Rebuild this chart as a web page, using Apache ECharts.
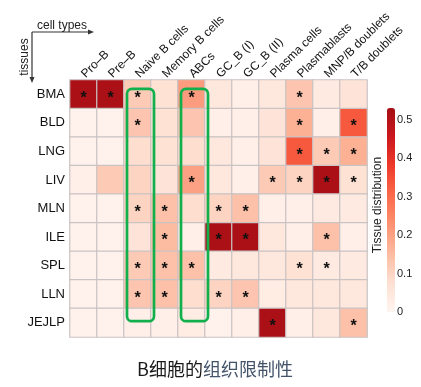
<!DOCTYPE html>
<html>
<head>
<meta charset="utf-8">
<script src="https://cdn.jsdelivr.net/npm/echarts@6/dist/echarts.min.js"></script>
<style>
html,body{margin:0;padding:0;background:#fff;}
#c{width:421px;height:387px;}
</style>
</head>
<body>
<div id="c"></div>
<script>
const tissues = ['BMA','BLD','LNG','LIV','MLN','ILE','SPL','LLN','JEJLP'];
const cellTypes = ['Pro–B','Pre–B','Naive B cells','Memory B cells','ABCs','GC_B (I)','GC_B (II)','Plasma cells','Plasmablasts','MNP/B doublets','T/B doublets'];

const rowBMA   = [0.52, 0.52, 0.12, 0.07, 0.21, 0.05, 0.02, 0.05, 0.13, 0.04, 0.06];
const rowBLD   = [0.01, 0.01, 0.13, 0.07, 0.13, 0.02, 0.02, 0.06, 0.17, 0.02, 0.33];
const rowLNG   = [0.01, 0.01, 0.08, 0.07, 0.08, 0.05, 0.02, 0.06, 0.33, 0.12, 0.17];
const rowLIV   = [0.02, 0.12, 0.10, 0.06, 0.20, 0.05, 0.02, 0.12, 0.10, 0.52, 0.07];
const rowMLN   = [0.01, 0.01, 0.10, 0.14, 0.08, 0.10, 0.14, 0.02, 0.02, 0.04, 0.04];
const rowILE   = [0.01, 0.01, 0.06, 0.15, 0.02, 0.52, 0.52, 0.05, 0.02, 0.14, 0.02];
const rowSPL   = [0.01, 0.01, 0.12, 0.14, 0.14, 0.04, 0.05, 0.05, 0.07, 0.04, 0.04];
const rowLLN   = [0.01, 0.01, 0.13, 0.14, 0.08, 0.10, 0.13, 0.03, 0.05, 0.05, 0.05];
const rowJEJLP = [0.01, 0.01, 0.02, 0.02, 0.03, 0.01, 0.02, 0.52, 0.02, 0.05, 0.14];
const values = [rowBMA,rowBLD,rowLNG,rowLIV,rowMLN,rowILE,rowSPL,rowLLN,rowJEJLP];

const starBMA   = [1,1,1,0,1,0,0,0,1,0,0];
const starBLD   = [0,0,1,0,0,0,0,0,1,0,1];
const starLNG   = [0,0,0,0,0,0,0,0,1,1,1];
const starLIV   = [0,0,0,0,1,0,0,1,1,1,1];
const starMLN   = [0,0,1,1,0,1,1,0,0,0,0];
const starILE   = [0,0,0,1,0,1,1,0,0,1,0];
const starSPL   = [0,0,1,1,1,0,0,0,1,1,0];
const starLLN   = [0,0,1,1,0,1,1,0,0,0,0];
const starJEJLP = [0,0,0,0,0,0,0,1,0,0,1];
const stars = [starBMA,starBLD,starLNG,starLIV,starMLN,starILE,starSPL,starLLN,starJEJLP];

const colorTicks = [0, 0.1, 0.2, 0.3, 0.4, 0.5];
const colorMax = 0.53;
const highlighted = ['Naive B cells','ABCs'];

const FONT = '"Liberation Sans", Arial, sans-serif';
const ramp = ['#FFF5F0','#FEE0D2','#FCBBA1','#FC9272','#FB6A4A','#EF3B2C','#CB181D','#A50F15'];

const data = [];
values.forEach((row, r) => {
  row.forEach((v, c) => {
    const item = { value: [c, r, v] };
    if (stars[r][c]) item.label = { show: true };
    data.push(item);
  });
});

const chart = echarts.init(document.getElementById('c'));
const GL = 70, GT = 80, GW = 297, GH = 257;

chart.setOption({
  animation: false,
  backgroundColor: '#fff',
  grid: [
    { left: GL, top: GT, width: GW, height: GH },
    { left: 387, top: 108, width: 8, height: 204 }
  ],
  xAxis: [
    {
      type: 'category', data: cellTypes, position: 'top', gridIndex: 0,
      axisLine: { show: false }, axisTick: { show: false }, splitLine: { show: false },
      axisLabel: { rotate: -45, interval: 0, margin: 4, fontSize: 12, color: '#111', fontFamily: FONT }
    },
    { type: 'category', data: ['c'], gridIndex: 1, show: false }
  ],
  yAxis: [
    {
      type: 'category', data: tissues, inverse: true, gridIndex: 0,
      axisLine: { show: false }, axisTick: { show: false }, splitLine: { show: false },
      axisLabel: { margin: 5, fontSize: 13, color: '#111', fontFamily: FONT }
    },
    {
      type: 'value', gridIndex: 1, min: 0, max: colorMax, interval: 0.1, position: 'right',
      axisLine: { show: false }, axisTick: { show: false }, splitLine: { show: false },
      axisLabel: {
        margin: 2, fontSize: 11, color: '#222', fontFamily: FONT, showMaxLabel: false,
        formatter: v => (colorTicks.some(t => Math.abs(t - v) < 1e-6) ? String(+v.toFixed(1)) : '')
      }
    }
  ],
  visualMap: {
    type: 'continuous', min: 0, max: colorMax, seriesIndex: 0,
    orient: 'vertical', left: 387, top: 108, itemWidth: 8, itemHeight: 204,
    padding: 0, calculable: false, text: null, showLabel: false,
    inRange: { color: ramp }
  },
  series: [{
    type: 'heatmap', xAxisIndex: 0, yAxisIndex: 0, data: data,
    itemStyle: { borderColor: '#cac3c3', borderWidth: 1.2 },
    label: {
      show: false, formatter: '*', fontSize: 16, fontWeight: 'bold', color: '#111',
      fontFamily: FONT, offset: [0, 4]
    },
    emphasis: { disabled: true }
  }]
});

// annotations
const graphics = [];
const cellW = GW / cellTypes.length;
const yTop = chart.convertToPixel({ yAxisIndex: 0 }, tissues[0]) - 5.5;
const yBot = chart.convertToPixel({ yAxisIndex: 0 }, tissues[tissues.length - 1]) - 1.5;
highlighted.forEach(name => {
  const cx = chart.convertToPixel({ xAxisIndex: 0 }, name);
  graphics.push({
    type: 'rect', z: 100,
    shape: { x: cx - cellW / 2 + 3, y: yTop, width: cellW, height: yBot - yTop, r: 5 },
    style: { fill: 'none', stroke: '#12b04c', lineWidth: 2.7 }
  });
});
// axis arrows top-left
graphics.push(
  { type: 'line', shape: { x1: 32, y1: 32, x2: 90, y2: 32 }, style: { stroke: '#333', lineWidth: 1.2 } },
  { type: 'polygon', shape: { points: [[94, 32], [88, 29.5], [88, 34.5]] }, style: { fill: '#333' } },
  { type: 'line', shape: { x1: 32, y1: 32, x2: 32, y2: 79 }, style: { stroke: '#333', lineWidth: 1.2 } },
  { type: 'polygon', shape: { points: [[32, 83], [29.5, 77], [34.5, 77]] }, style: { fill: '#333' } },
  { type: 'text', x: 37, y: 26, style: { text: 'cell types', fontSize: 12, fontFamily: FONT, fill: '#222', verticalAlign: 'middle', align: 'left' } },
  { type: 'text', x: 25, y: 57, rotation: Math.PI / 2, style: { text: 'tissues', fontSize: 12, fontFamily: FONT, fill: '#222', verticalAlign: 'middle', align: 'center' } },
  { type: 'text', x: 378, y: 205, rotation: Math.PI / 2, style: { text: 'Tissue distribution', fontSize: 12, fontFamily: FONT, fill: '#222', verticalAlign: 'middle', align: 'center' } },
  { type: 'text', x: 215, y: 369, style: {
      text: '{a|B细胞的}{b|组织限制性}', align: 'center', verticalAlign: 'middle',
      rich: {
        a: { fontSize: 18, fontFamily: '"Noto Sans CJK SC", "Noto Sans", sans-serif', fill: '#1a1a1a' },
        b: { fontSize: 18, fontFamily: '"Noto Sans CJK SC", "Noto Sans", sans-serif', fill: '#44546a' }
      }
  } }
);
chart.setOption({ graphic: graphics });
</script>
</body>
</html>
